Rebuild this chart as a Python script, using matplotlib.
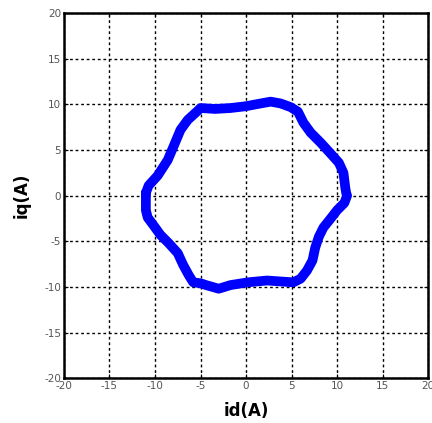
import matplotlib
matplotlib.use("Agg")
import matplotlib.pyplot as plt
import numpy as np

# current trajectory in the d-q plane
id_a = [-11.0, -10.7, -9.7, -8.6, -8.0, -7.2, -6.4, -5.3, -5.0, -3.4, -1.7, 0.0,
        1.6, 2.7, 3.8, 4.9, 5.7, 6.3, 7.1, 8.2, 9.3, 10.2, 10.7, 10.9, 11.0, 11.1,
        10.8, 10.0, 9.3, 8.5, 8.0, 7.6, 7.3, 6.7, 6.0, 5.2, 2.3, 0.2, -1.7, -3.0,
        -4.4, -5.0, -5.8, -6.3, -6.9, -7.5, -8.5, -9.4, -10.2, -10.8, -11.0, -11.0]
iq_a = [0.3, 1.1, 2.2, 3.9, 5.3, 7.2, 8.3, 9.3, 9.6, 9.5, 9.6, 9.8,
        10.1, 10.3, 10.1, 9.7, 9.2, 8.0, 6.9, 5.8, 4.6, 3.6, 2.5, 0.9, 0.3, 0.0,
        -0.8, -1.6, -2.5, -3.5, -4.5, -5.7, -7.1, -8.2, -9.1, -9.5, -9.3, -9.5, -9.8, -10.2,
        -9.8, -9.6, -9.5, -8.7, -7.6, -6.3, -5.2, -4.3, -3.2, -2.4, -1.6, 0.3]
ticks = np.arange(-20, 21, 5)
tick_labels = ["-20", "-15", "-10", "-5", "0", "5", "10", "15", "20"]

fig = plt.figure(figsize=(4.32, 4.23), dpi=100)
ax = fig.add_axes([0.148, 0.106, 0.843, 0.863])

ax.plot(id_a, iq_a, color="#0000ff", linewidth=7, solid_capstyle="round",
        solid_joinstyle="round")

ax.set_xlim(-20, 20)
ax.set_ylim(-20, 20)
ax.set_xticks(ticks)
ax.set_yticks(ticks)
ax.set_xticklabels(tick_labels)
ax.set_yticklabels(tick_labels)
ax.tick_params(direction="in", length=3, labelsize=7.5, labelcolor="#555555",
               top=True, right=True, pad=2)
ax.grid(True, color="black", linestyle=(0, (2, 2)), linewidth=1)
for s in ax.spines.values():
    s.set_linewidth(1.8)

ax.set_xlabel("id(A)", fontsize=12, fontweight="bold", labelpad=8)
ax.set_ylabel("iq(A)", fontsize=12, fontweight="bold", labelpad=10)

fig.savefig("out.png", dpi=100)
